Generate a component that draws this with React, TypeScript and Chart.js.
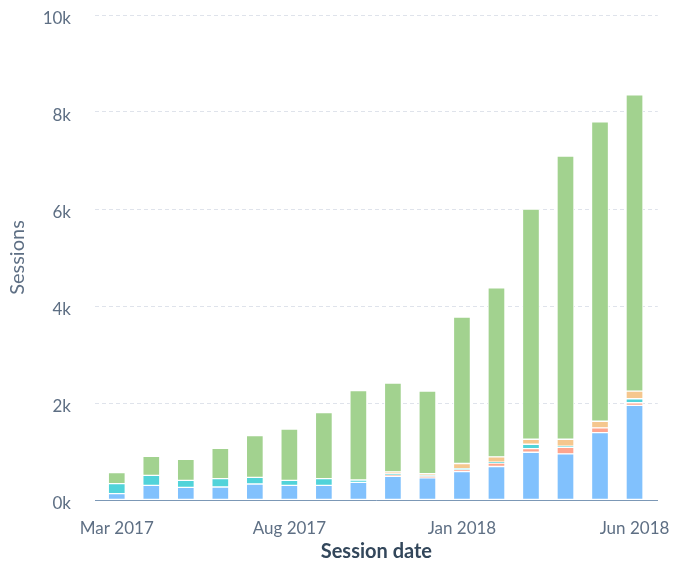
import React, { useEffect, useRef } from 'react';
import { Chart, registerables } from 'chart.js';

Chart.register(...registerables);

const months = [
  'Mar 2017', 'Apr 2017', 'May 2017', 'Jun 2017', 'Jul 2017', 'Aug 2017', 'Sep 2017', 'Oct 2017',
  'Nov 2017', 'Dec 2017', 'Jan 2018', 'Feb 2018', 'Mar 2018', 'Apr 2018', 'May 2018', 'Jun 2018',
];
const blueSeries = [131, 302, 261, 268, 330, 302, 302, 364, 490, 456, 587, 690, 985, 950, 1390, 1950];
const salmonSeries = [0, 0, 0, 0, 0, 0, 0, 0, 29, 29, 40, 70, 75, 138, 97, 55];
const tealSeries = [206, 207, 144, 172, 137, 103, 138, 48, 20, 20, 20, 20, 90, 20, 0, 83];
const orangeSeries = [0, 0, 0, 0, 0, 0, 0, 0, 40, 40, 105, 110, 103, 144, 137, 158];
const greenSeries = [227, 391, 433, 625, 859, 1059, 1361, 1842, 1831, 1700, 3018, 3485, 4747, 5838, 6171, 6109];
const labelIndexes = [0, 5, 10, 15];
const yTicks = [0, 2000, 4000, 6000, 8000, 10000];

const toPoints = (arr: number[]) => arr.map((v, i) => ({ x: i, y: v }));

export default function App() {
  const ref = useRef<HTMLCanvasElement | null>(null);

  useEffect(() => {
    if (!ref.current) return;
    const ds = (data: number[], color: string) => ({
      data: toPoints(data),
      backgroundColor: color,
      borderColor: '#ffffff',
      borderWidth: 1,
      borderSkipped: false as const,
      barThickness: 17,
    });
    const chart = new Chart(ref.current, {
      type: 'bar',
      data: {
        datasets: [
          ds(blueSeries, '#81c1fd'),
          ds(salmonSeries, '#fea58e'),
          ds(tealSeries, '#51d3d9'),
          ds(orangeSeries, '#f5c78e'),
          ds(greenSeries, '#a2d28f'),
        ],
      },
      options: {
        animation: false,
        responsive: false,
        layout: { padding: { left: 0, right: 15, top: 15, bottom: 0 } },
        plugins: { legend: { display: false }, tooltip: { enabled: false } },
        scales: {
          x: {
            type: 'linear',
            stacked: true,
            offset: false,
            min: -0.631,
            max: 15.674,
            grid: { display: false, offset: false, drawTicks: true, tickLength: 15 },
            border: { display: true, color: '#7c98b6', width: 1 },
            afterBuildTicks: (axis: any) => {
              axis.ticks = labelIndexes.map((v) => ({ value: v }));
            },
            afterFit: (scale: any) => {
              scale.height = 61;
            },
            ticks: {
              autoSkip: false,
              maxRotation: 0,
              padding: 3,
              color: '#5e6f84',
              font: { family: 'Lato', size: 17 },
              callback: (v: any) => months[v as number] ?? '',
            },
            title: {
              display: true,
              text: 'Session date',
              color: '#33475b',
              font: { family: 'Lato', size: 20, weight: 'bold' },
              padding: { top: 0, bottom: -3 },
            },
          },
          y: {
            type: 'linear',
            stacked: true,
            min: 0,
            max: 10000,
            afterBuildTicks: (axis: any) => {
              axis.ticks = yTicks.map((v) => ({ value: v }));
            },
            afterFit: (scale: any) => {
              scale.width = 95;
            },
            grid: {
              color: '#dfe3eb',
              lineWidth: 1,
              drawTicks: true,
              tickLength: 24,
              tickColor: 'rgba(0,0,0,0)',
            },
            border: { display: false, dash: [4, 3] },
            ticks: {
              padding: 0,
              labelOffset: 4,
              color: '#5e6f84',
              font: { family: 'Lato', size: 17 },
              callback: (v: any) => `${(v as number) / 1000}k`,
            },
            title: {
              display: true,
              text: 'Sessions',
              color: '#5e6f84',
              font: { family: 'Lato', size: 20 },
              padding: { top: 6, bottom: 0 },
            },
          },
        },
      },
    });
    return () => chart.destroy();
  }, []);

  return (
    <canvas
      ref={ref}
      width={673}
      height={561}
      style={{ position: 'absolute', left: 0, top: 0, width: 673, height: 561 }}
    />
  );
}
